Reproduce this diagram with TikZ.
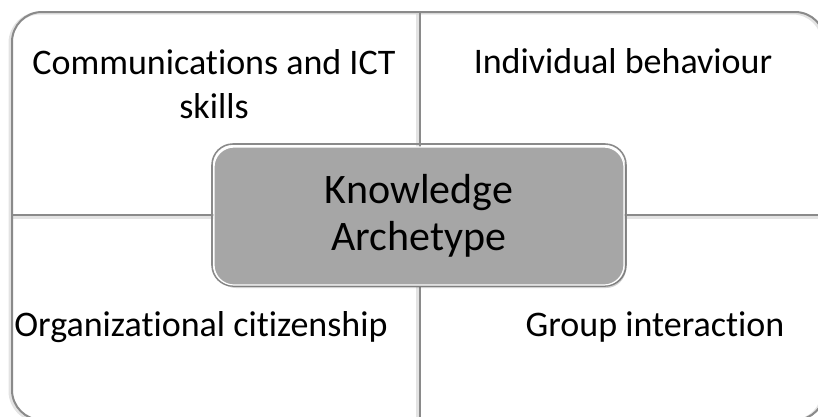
\documentclass[tikz,border=0pt]{standalone}
\usepackage{fontspec}
\setmainfont{Carlito}[Ligatures={NoCommon}]
\usetikzlibrary{shadows}
\definecolor{linegray}{HTML}{8A8A8A}
\definecolor{boxgray}{HTML}{A6A6A6}
\definecolor{shadegray}{HTML}{D0D0D0}
\tikzset{
  quadline/.style={draw=linegray, line width=2pt},
  quadshade/.style={draw=shadegray, line width=3pt, opacity=0.6},
  quadtext/.style={font=\fontsize{36}{44}\selectfont, align=center, inner sep=0pt},
  centerbox/.style={fill=boxgray, draw=white, line width=1.2pt, rounded corners=20pt,
    minimum width=410pt, minimum height=138pt, inner sep=0pt,
    font=\fontsize{42}{47}\selectfont, align=center,
    drop shadow={shadow xshift=2pt, shadow yshift=-3pt, opacity=0.3, fill=black!60}},
}
\begin{document}
\begin{tikzpicture}[x=1pt,y=-1pt]
\useasboundingbox (0,0) rectangle (818,416);
\clip (0,0) rectangle (818,416);
% faint shadows of the outlines
\draw[quadshade, rounded corners=30pt] (10,13) rectangle (823,421);
\draw[quadshade] (417,14) -- (417,421);
\draw[quadshade] (12,217) -- (825,217);
% quadrant outlines
\draw[quadline, rounded corners=30pt] (12,12) rectangle (825,420);
\draw[quadline] (420,12) -- (420,420);
\draw[quadline] (12,215) -- (825,215);
% quadrant texts
\node[quadtext] (tl) at (214,84) {Communications and ICT\\skills};
\node[quadtext] (tr) at (623,61) {Individual behaviour};
\node[quadtext] (bl) at (201,327) {Organizational citizenship};
\node[quadtext] (br) at (655,327) {Group interaction};
% centre box
\draw[draw=linegray, line width=1.6pt, rounded corners=21pt] (212,144) rectangle (626,286);
\node[centerbox] (core) at (419,216) {Knowledge\\Archetype};
\end{tikzpicture}
\end{document}
